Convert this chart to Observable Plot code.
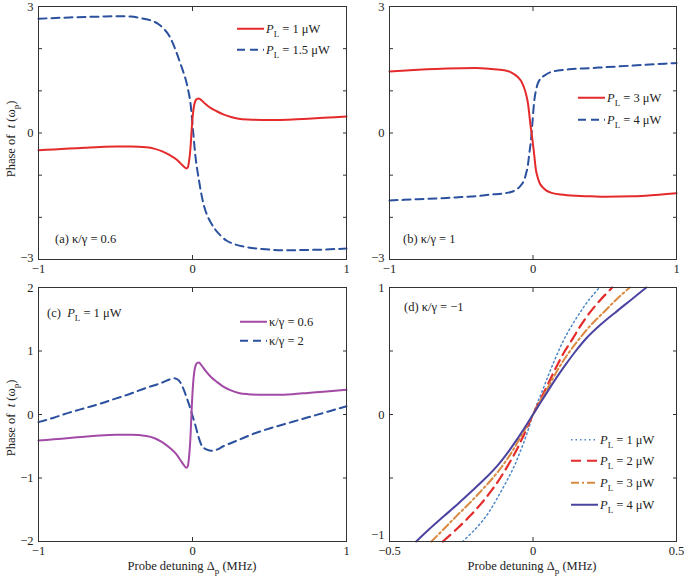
<!DOCTYPE html>
<html><head><meta charset="utf-8">
<script src="https://cdn.jsdelivr.net/npm/d3@7"></script>
<script src="https://cdn.jsdelivr.net/npm/@observablehq/plot@0.6"></script>
<style>
body{margin:0;background:#fff;}
#fig{position:relative;width:685px;height:579px;font-family:"Liberation Serif","Times New Roman",serif;color:#222;background:#fff;overflow:hidden;}
#fig svg.pl{position:absolute;}
.t{position:absolute;font-size:12.5px;white-space:nowrap;line-height:1;}
.t sub{font-size:9px;vertical-align:-4px;line-height:0;font-style:normal;}
.leg{display:flex;align-items:center;}
.leg svg{margin-right:2px;}
</style></head>
<body><div id="fig"></div>
<script>
// ---------- data ----------
// kappa/gamma = 0.6, P_L = 1 uW  (panel a red, panel c purple)
const k06p1X = [-1,-0.9,-0.8,-0.7,-0.6,-0.5,-0.4,-0.3,-0.25,-0.2,-0.15,-0.1,-0.078,-0.055,-0.04,-0.03,-0.022,-0.013,-0.005,0.004,0.012,0.02,0.03,0.041,0.06,0.084,0.12,0.16,0.2,0.25,0.3,0.36,0.45,0.55,0.65,0.75,0.85,1];
const k06p1Y = [-0.41,-0.39,-0.37,-0.35,-0.33,-0.32,-0.32,-0.34,-0.37,-0.43,-0.52,-0.64,-0.72,-0.8,-0.84,-0.81,-0.66,-0.35,0.1,0.49,0.68,0.77,0.81,0.82,0.77,0.69,0.59,0.51,0.44,0.38,0.34,0.32,0.31,0.31,0.32,0.34,0.36,0.39];
// kappa/gamma = 0.6, P_L = 1.5 uW (panel a blue)
const k06p15X = [-1,-0.8,-0.6,-0.5,-0.4,-0.33,-0.27,-0.22,-0.186,-0.15,-0.121,-0.1,-0.078,-0.06,-0.045,-0.03,-0.013,0.005,0.019,0.03,0.041,0.055,0.074,0.095,0.117,0.15,0.182,0.22,0.268,0.355,0.45,0.6,0.8,1];
const k06p15Y = [2.71,2.74,2.76,2.77,2.76,2.72,2.67,2.58,2.47,2.3,2.07,1.87,1.64,1.45,1.28,1.05,0.7,0,-0.55,-0.85,-1.1,-1.4,-1.72,-1.95,-2.11,-2.3,-2.43,-2.55,-2.63,-2.71,-2.75,-2.78,-2.77,-2.74];
// kappa/gamma = 1, P_L = 3 uW (panel b red)
const k1p3X = [-1,-0.8,-0.6,-0.4,-0.293,-0.2,-0.153,-0.11,-0.084,-0.065,-0.049,-0.035,-0.026,-0.018,-0.009,0.005,0.021,0.03,0.044,0.065,0.091,0.13,0.195,0.3,0.404,0.5,0.7,0.85,1];
const k1p3Y = [1.46,1.5,1.53,1.54,1.52,1.49,1.44,1.34,1.24,1.1,0.93,0.7,0.45,0.2,-0.02,-0.41,-0.89,-1.02,-1.17,-1.28,-1.36,-1.42,-1.46,-1.49,-1.5,-1.51,-1.5,-1.47,-1.43];
// kappa/gamma = 1, P_L = 4 uW (panel b blue)
const k1p4X = [-1,-0.8,-0.6,-0.5,-0.4,-0.293,-0.2,-0.153,-0.12,-0.084,-0.06,-0.049,-0.035,-0.026,-0.015,-0.005,0.009,0.02,0.033,0.05,0.079,0.12,0.172,0.25,0.404,0.5,0.7,0.85,1];
const k1p4Y = [-1.6,-1.57,-1.54,-1.52,-1.5,-1.46,-1.43,-1.4,-1.35,-1.24,-1.1,-0.97,-0.75,-0.49,-0.2,0.2,0.77,1.0,1.17,1.28,1.36,1.44,1.48,1.51,1.54,1.56,1.6,1.63,1.66];
// kappa/gamma = 2, P_L = 1 uW (panel c blue)
const k2p1X = [-1,-0.9,-0.8,-0.7,-0.6,-0.5,-0.4,-0.3,-0.2,-0.15,-0.12,-0.09,-0.06,-0.04,-0.02,0,0.02,0.04,0.06,0.09,0.12,0.15,0.2,0.3,0.4,0.5,0.6,0.7,0.8,0.9,1];
const k2p1Y = [-0.12,-0.05,0.03,0.1,0.17,0.25,0.33,0.42,0.5,0.55,0.57,0.54,0.41,0.28,0.14,-0.02,-0.18,-0.36,-0.49,-0.55,-0.57,-0.56,-0.5,-0.4,-0.3,-0.22,-0.15,-0.08,-0.01,0.06,0.13];
// panel d: kappa/gamma = -1, detuning read at each phase level
const dPhase = [-1,-0.9,-0.8,-0.7,-0.6,-0.5,-0.4,-0.3,-0.2,-0.1,0,0.1,0.2,0.3,0.4,0.5,0.6,0.7,0.8,0.9,1];
const dP1 = [-0.245,-0.2,-0.163,-0.135,-0.11,-0.086,-0.064,-0.046,-0.029,-0.014,0,0.017,0.035,0.052,0.07,0.089,0.11,0.135,0.163,0.194,0.232];
const dP2 = [-0.314,-0.265,-0.22,-0.18,-0.145,-0.114,-0.087,-0.062,-0.04,-0.02,0,0.022,0.044,0.065,0.087,0.111,0.139,0.166,0.197,0.234,0.276];
const dP3 = [-0.354,-0.31,-0.267,-0.222,-0.18,-0.14,-0.105,-0.075,-0.049,-0.024,0,0.024,0.049,0.073,0.099,0.129,0.163,0.2,0.244,0.288,0.337];
const dP4 = [-0.407,-0.36,-0.31,-0.26,-0.212,-0.165,-0.123,-0.088,-0.057,-0.028,0,0.028,0.056,0.085,0.116,0.149,0.186,0.232,0.285,0.34,0.395];

// ticks
const ticksAB_Y = [-3,-2,-1,0,1,2,3], labelsAB_Y = [0,3], lowAB_Y = [-3];
const ticksABC_X = [-1,0,1];
const ticksC_Y = [-2,-1,0,1,2], labelsC_Y = [-1,0,1,2], lowC_Y = [-2];
const ticksD_Y = [-1,-0.5,0,0.5,1], labelsD_Y = [0,1], lowD_Y = [-1];
const ticksD_X = [-0.5,0,0.5];

// colours
const RED = "#e52a2c", BLUE = "#2b509e", PURPLE = "#a24aa6";
const D_BLUE = "#4d86c8", D_RED = "#e42b2b", D_ORANGE = "#d98a42", D_PURPLE = "#4b43a0";

// ---------- helpers ----------
const zip = (xs, ys) => xs.map((x, i) => ({x, y: ys[i]}));
const fmt = d => (d < 0 ? "\u2212" + Math.abs(d) : String(d));
const fig = document.getElementById("fig");

function panel({left, top, w, h, ml, mr, mt, mb, xDomain, yDomain, xTicks, yTicks, xLabels, yLabels, yLow, lowDy, marks}) {
  const svg = Plot.plot({
    width: w, height: h, marginLeft: ml, marginRight: mr, marginTop: mt, marginBottom: mb,
    x: {domain: xDomain}, y: {domain: yDomain},
    style: {fontFamily: '"Liberation Serif","Times New Roman",serif', fontSize: "12.5px", background: "transparent", overflow: "visible", color: "#222"},
    marks: [
      ...marks,
      Plot.frame({stroke: "#333", strokeWidth: 1}),
      Plot.axisY(yTicks, {anchor: "left", tickSize: -4, tickFormat: () => "", label: null, stroke: "#333"}),
      Plot.axisY(yTicks, {anchor: "right", tickSize: -4, tickFormat: () => "", label: null, stroke: "#333"}),
      Plot.axisX(xTicks, {anchor: "bottom", tickSize: -4, tickFormat: () => "", label: null, stroke: "#333"}),
      Plot.axisX(xTicks, {anchor: "top", tickSize: -4, tickFormat: () => "", label: null, stroke: "#333"}),
      Plot.axisY(yLabels, {anchor: "left", tickSize: 0, tickPadding: 5, label: null, tickFormat: fmt}),
      Plot.axisY(yLow, {anchor: "left", tickSize: 0, tickPadding: 5, label: null, tickFormat: fmt, dy: lowDy}),
      Plot.axisX(xLabels, {anchor: "bottom", tickSize: 0, tickPadding: 5, label: null, tickFormat: fmt})
    ]
  });
  svg.classList.add("pl");
  svg.style.left = left + "px";
  svg.style.top = top + "px";
  fig.appendChild(svg);
}

function text(html, left, top, extra = "") {
  const d = document.createElement("div");
  d.className = "t";
  d.innerHTML = html;
  d.style.cssText += `left:${left}px;top:${top}px;transform:translate(0,-50%);${extra}`;
  fig.appendChild(d);
  return d;
}
function legendRow(left, cy, color, dash, sw, html) {
  const d = text("", left, cy);
  d.classList.add("leg");
  d.innerHTML = `<svg width="27" height="8"><line x1="0" y1="4" x2="27" y2="4" stroke="${color}" stroke-width="${sw}" stroke-dasharray="${dash}"/></svg><span>${html}</span>`;
}
const PL = v => `<i>P</i><sub>L</sub> = ${v} \u03bcW`;

// ---------- panels ----------
panel({left: 0, top: 0, w: 350, h: 285, ml: 38, mr: 4, mt: 6, mb: 26,
  xDomain: [-1, 1], yDomain: [-3, 3], xTicks: ticksABC_X, yTicks: ticksAB_Y, xLabels: ticksABC_X, yLabels: labelsAB_Y, yLow: lowAB_Y, lowDy: -2,
  marks: [
    Plot.line(zip(k06p15X, k06p15Y), {x: "x", y: "y", stroke: BLUE, strokeWidth: 2, strokeDasharray: "8,5", curve: "monotone-x"}),
    Plot.line(zip(k06p1X, k06p1Y), {x: "x", y: "y", stroke: RED, strokeWidth: 2, curve: "monotone-x"})
  ]});
panel({left: 350, top: 0, w: 335, h: 285, ml: 39, mr: 9, mt: 6, mb: 26,
  xDomain: [-1, 1], yDomain: [-3, 3], xTicks: ticksABC_X, yTicks: ticksAB_Y, xLabels: ticksABC_X, yLabels: labelsAB_Y, yLow: lowAB_Y, lowDy: -2,
  marks: [
    Plot.line(zip(k1p4X, k1p4Y), {x: "x", y: "y", stroke: BLUE, strokeWidth: 2, strokeDasharray: "8,5", curve: "monotone-x"}),
    Plot.line(zip(k1p3X, k1p3Y), {x: "x", y: "y", stroke: RED, strokeWidth: 2, curve: "monotone-x"})
  ]});
panel({left: 0, top: 280, w: 350, h: 285, ml: 38, mr: 4, mt: 7, mb: 24,
  xDomain: [-1, 1], yDomain: [-2, 2], xTicks: ticksABC_X, yTicks: ticksC_Y, xLabels: ticksABC_X, yLabels: labelsC_Y, yLow: lowC_Y, lowDy: -1,
  marks: [
    Plot.line(zip(k2p1X, k2p1Y), {x: "x", y: "y", stroke: BLUE, strokeWidth: 2, strokeDasharray: "8,5", curve: "monotone-x"}),
    Plot.line(zip(k06p1X, k06p1Y), {x: "x", y: "y", stroke: PURPLE, strokeWidth: 2, curve: "monotone-x"})
  ]});
panel({left: 350, top: 280, w: 335, h: 285, ml: 39, mr: 9, mt: 7, mb: 24,
  xDomain: [-0.5, 0.5], yDomain: [-1, 1], xTicks: ticksD_X, yTicks: ticksD_Y, xLabels: ticksD_X, yLabels: labelsD_Y, yLow: lowD_Y, lowDy: -7,
  marks: [
    Plot.line(zip(dP1, dPhase), {x: "x", y: "y", stroke: D_BLUE, strokeWidth: 1.5, strokeDasharray: "1.5,3", curve: "catmull-rom"}),
    Plot.line(zip(dP2, dPhase), {x: "x", y: "y", stroke: D_RED, strokeWidth: 2.2, strokeDasharray: "10,6", curve: "catmull-rom"}),
    Plot.line(zip(dP3, dPhase), {x: "x", y: "y", stroke: D_ORANGE, strokeWidth: 2, strokeDasharray: "8,3,2,3", curve: "catmull-rom"}),
    Plot.line(zip(dP4, dPhase), {x: "x", y: "y", stroke: D_PURPLE, strokeWidth: 2, curve: "catmull-rom"})
  ]});

// ---------- annotations ----------
const yTitle = `Phase of&nbsp; <i>t</i> (\u03c9<sub>p</sub>)`;
text(yTitle, 11, 139, "transform:translate(-50%,-50%) rotate(-90deg);");
text(yTitle, 11, 418, "transform:translate(-50%,-50%) rotate(-90deg);");
const xTitle = `Probe detuning \u0394<sub>p</sub> (MHz)`;
text(xTitle, 192, 566, "transform:translate(-50%,-50%);");
text(xTitle, 532, 566, "transform:translate(-50%,-50%);");

text("(a) \u03ba/\u03b3 = 0.6", 55, 239);
text("(b) \u03ba/\u03b3 = 1", 403, 239);
text(`(c)&nbsp; ${PL(1)}`, 47, 313);
text("(d) \u03ba/\u03b3 = \u22121", 404, 307);

legendRow(237, 29, RED, "none", 2, PL(1));
legendRow(237, 50, BLUE, "8,5", 2, PL(1.5));
legendRow(578, 98, RED, "none", 2, PL(3));
legendRow(578, 120, BLUE, "8,5", 2, PL(4));
legendRow(240, 322, PURPLE, "none", 2, "\u03ba/\u03b3 = 0.6");
legendRow(240, 341, BLUE, "8,5", 2, "\u03ba/\u03b3 = 2");
legendRow(571, 440, D_BLUE, "1.5,3", 1.5, PL(1));
legendRow(571, 461, D_RED, "10,6", 2.2, PL(2));
legendRow(571, 483, D_ORANGE, "8,3,2,3", 2, PL(3));
legendRow(571, 505, D_PURPLE, "none", 2, PL(4));
</script></body></html>
